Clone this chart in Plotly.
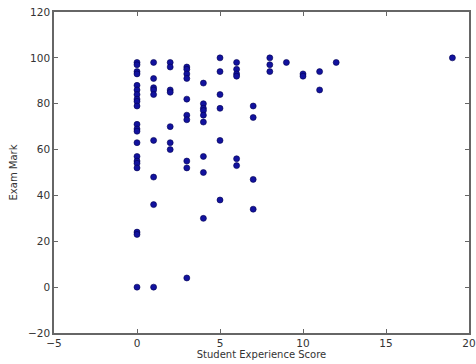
import plotly.graph_objects as go

# Student experience score (x) and exam mark (y)
score_0 = [98, 97, 94, 93, 88, 86, 84, 82, 81, 79, 71, 69, 68, 63, 57, 55, 54, 52, 24, 23, 0]
score_1 = [98, 91, 87, 86, 84, 64, 48, 36, 0]
score_2 = [98, 96, 86, 85, 70, 63, 60]
score_3 = [96, 95, 93, 91, 82, 75, 73, 55, 52, 4]
score_4 = [89, 80, 78, 77, 75, 72, 57, 50, 30]
score_5 = [100, 94, 84, 78, 64, 38]
score_6 = [98, 95, 93, 92, 56, 53]
score_7 = [79, 74, 47, 34]
score_8 = [100, 97, 94]
score_9 = [98]
score_10 = [93, 92]
score_11 = [94, 86]
score_12 = [98]
score_19 = [100]

groups = {0: score_0, 1: score_1, 2: score_2, 3: score_3, 4: score_4, 5: score_5,
          6: score_6, 7: score_7, 8: score_8, 9: score_9, 10: score_10,
          11: score_11, 12: score_12, 19: score_19}

x_vals, y_vals = [], []
for s, marks in groups.items():
    for m in marks:
        x_vals.append(s)
        y_vals.append(m)

x_ticks = [-5, 0, 5, 10, 15, 20]
y_ticks = [-20, 0, 20, 40, 60, 80, 100, 120]

fig = go.Figure(go.Scatter(
    x=x_vals, y=y_vals, mode="markers",
    marker=dict(size=6, color="#12129e", line=dict(color="#000050", width=0.6)),
))

axis_common = dict(
    showgrid=False, zeroline=False, showline=True, linecolor="#666", linewidth=1.5,
    mirror="allticks", ticks="inside", ticklen=4, tickcolor="#666", automargin=False,
    ticklabeloverflow="allow",
    tickfont=dict(family="DejaVu Sans", size=10.5, color="#333"),
)
fig.update_xaxes(range=[-5, 20], tickvals=x_ticks, **axis_common,
                 title=dict(text="Student Experience Score", standoff=2,
                            font=dict(family="DejaVu Sans", size=10, color="#333")))
fig.update_yaxes(range=[-20, 120], tickvals=y_ticks, **axis_common,
                 title=dict(text="Exam Mark", standoff=8,
                            font=dict(family="DejaVu Sans", size=10, color="#333")))

fig.update_layout(
    width=476, height=364,
    margin=dict(l=54, r=7, t=12, b=31),
    paper_bgcolor="white", plot_bgcolor="white",
    showlegend=False,
)

# remove the page's default body margin so the figure fills the window exactly
fig.write_html("out.html", config={"displayModeBar": False},
               post_script="document.body.style.margin='0';document.body.style.overflow='hidden';")
